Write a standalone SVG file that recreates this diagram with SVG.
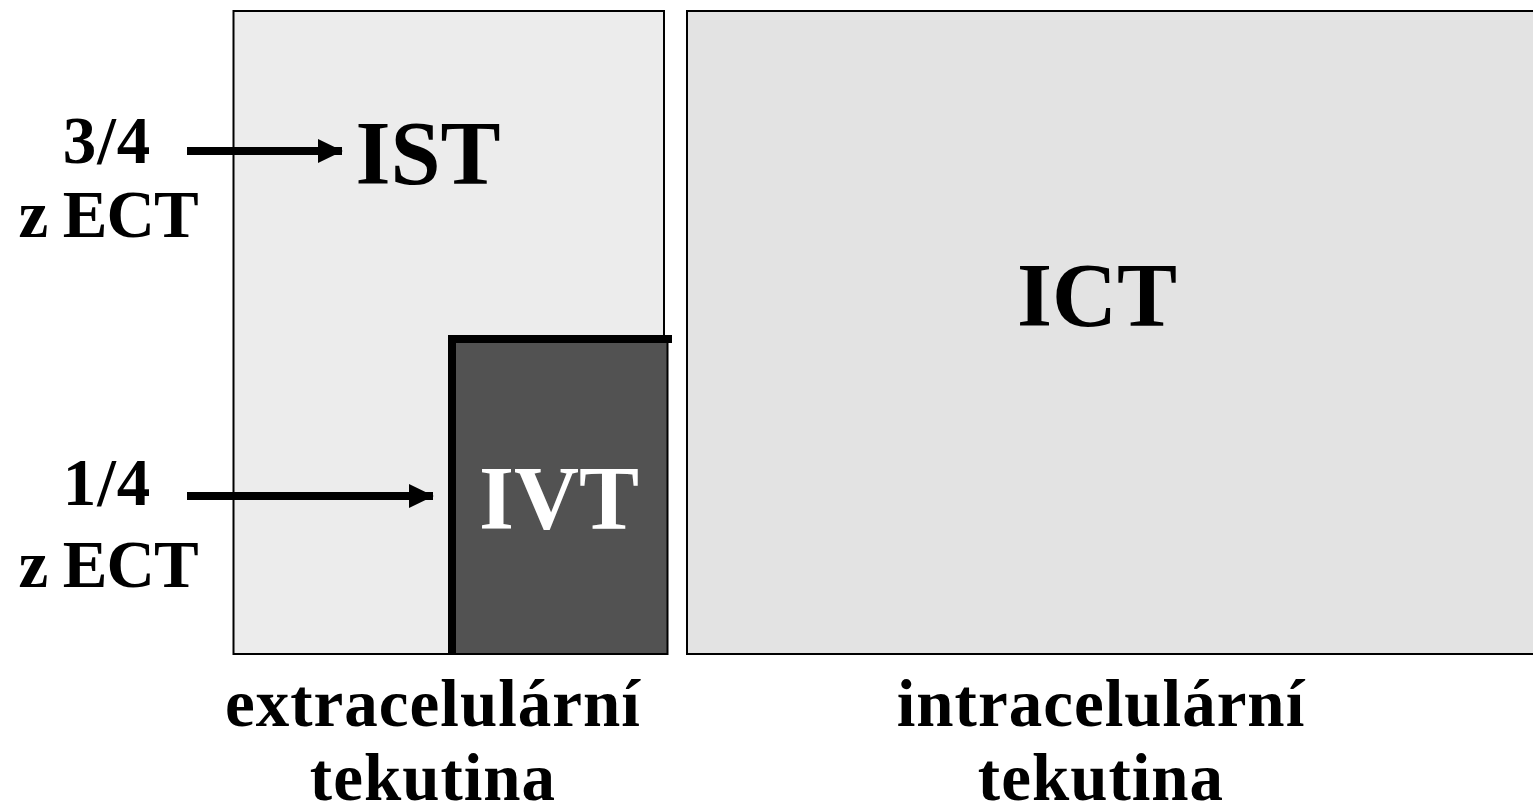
<svg xmlns="http://www.w3.org/2000/svg" width="1533" height="810" viewBox="0 0 1533 810">
<style>
.t{font-family:"Liberation Serif","Times New Roman",serif;font-weight:bold;text-anchor:middle;fill:#000}
.s{font-size:67px;letter-spacing:1px}
.z{letter-spacing:-1px}
.b{font-size:90px}
.ln{stroke:#000;stroke-width:8;fill:none}
</style>
<defs>
<marker id="ah" markerWidth="3.1" markerHeight="3" refX="3" refY="1.5" orient="auto" markerUnits="strokeWidth">
<path d="M0,0 L3.1,1.5 L0,3 Z" fill="#000"/>
</marker>
</defs>
<rect width="1533" height="810" fill="#fff"/>
<g id="ect">
<rect x="233.5" y="11" width="430.5" height="643" fill="#ececec" stroke="#000" stroke-width="2"/>
<text class="t b" x="428" y="184">IST</text>
</g>
<g id="ict">
<rect x="687" y="11" width="860" height="643" fill="#e3e3e3" stroke="#000" stroke-width="2"/>
<text class="t b" x="1097" y="326">ICT</text>
</g>
<g id="ivt">
<rect x="452" y="339" width="215.5" height="315" fill="#525252" stroke="#000" stroke-width="2"/>
<path d="M452,654 V339 H672" stroke="#000" stroke-width="8" fill="none"/>
<text class="t b" x="559" y="529" style="fill:#fff">IVT</text>
</g>
<g id="labels">
<text class="t s" x="107" y="163">3/4</text>
<text class="t s z" x="108" y="237">z ECT</text>
<text class="t s" x="107" y="505">1/4</text>
<text class="t s z" x="108" y="587">z ECT</text>
<text class="t s" x="433" y="726">extracelulární</text>
<text class="t s" x="433" y="800">tekutina</text>
<text class="t s" x="1101" y="726">intracelulární</text>
<text class="t s" x="1101" y="800">tekutina</text>
</g>
<g id="connectors">
<line class="ln" x1="187" y1="151" x2="342" y2="151" marker-end="url(#ah)"/>
<line class="ln" x1="187" y1="496" x2="433" y2="496" marker-end="url(#ah)"/>
</g>
</svg>
